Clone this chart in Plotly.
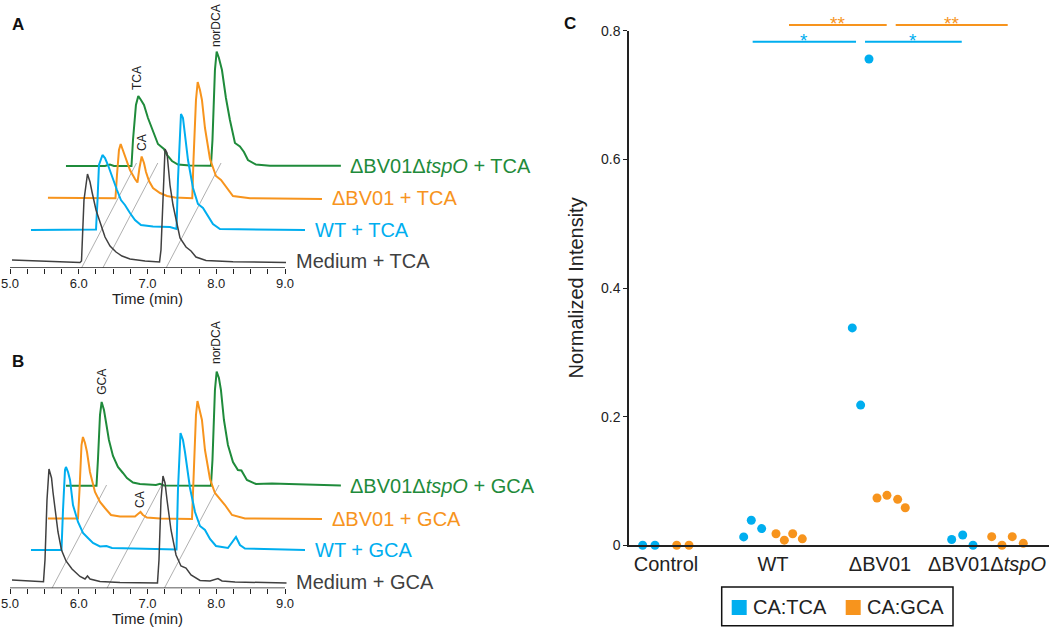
import plotly.graph_objects as go

W, H = 1050, 628

# ---------------- Panels A/B: chromatograms (native retention time, min / signal, a.u.)
A_MED_T = [5.029, 5.436, 6.018, 6.040, 6.076, 6.127, 6.164, 6.193, 6.251, 6.309, 6.382, 6.455, 6.542, 6.629, 6.745, 6.964, 7.175, 7.196, 7.225, 7.255, 7.284, 7.327, 7.371, 7.415, 7.473, 7.560, 7.633, 7.705, 7.851, 8.244, 9.015]
A_MED_I = [1, 0, -1.5, 0, 61, 87, 79, 69, 51, 39, 24, 15, 9, 5, 2, 0, -1, 11, 71, 112, 108, 76, 56, 43, 23, 14, 10, 4, 0.5, -0.7, -1.5]
A_WT_T = [5.039, 5.461, 5.985, 6.007, 6.028, 6.079, 6.116, 6.159, 6.217, 6.290, 6.348, 6.406, 6.479, 6.552, 6.639, 6.814, 7.061, 7.156, 7.177, 7.206, 7.221, 7.250, 7.279, 7.323, 7.396, 7.468, 7.541, 7.614, 7.686, 7.788, 9.025]
A_WT_I = [-0.5, 0, 0, 29.5, 64.5, 74.5, 71.5, 64.5, 52.5, 39.5, 29.5, 24.5, 16.5, 9.5, 4.5, 3, 2.5, 0.5, 49.5, 104.5, 115.5, 111.5, 96.5, 69.5, 41.5, 25.5, 21.5, 13.5, 5.5, 0.5, -0.5]
A_DB_T = [5.020, 5.486, 6.002, 6.024, 6.053, 6.078, 6.111, 6.141, 6.213, 6.286, 6.322, 6.351, 6.383, 6.417, 6.446, 6.490, 6.548, 6.650, 6.752, 6.868, 7.119, 7.137, 7.173, 7.198, 7.231, 7.260, 7.304, 7.377, 7.464, 7.537, 7.609, 7.711, 7.959, 9.006]
A_DB_I = [0.6, 0.3, 0, 23.3, 48.3, 54.3, 48.3, 41.3, 28.3, 19.3, 15.8, 30.3, 41.8, 35.3, 26.3, 17.3, 10.3, 5.3, 2.3, 0.8, 0, 38.3, 98.3, 116.3, 108.3, 98.3, 70.3, 39.3, 22.3, 18.3, 11.3, 2.3, 0, -0.7]
A_DT_T = [5.016, 5.583, 5.656, 5.714, 5.969, 5.991, 6.034, 6.068, 6.107, 6.151, 6.209, 6.282, 6.354, 6.398, 6.441, 6.485, 6.558, 6.645, 6.820, 7.125, 7.147, 7.183, 7.208, 7.241, 7.285, 7.343, 7.401, 7.474, 7.546, 7.605, 7.663, 7.779, 7.983, 9.015]
A_DT_I = [0, 0, 1.5, 0, 0, 26, 61, 70, 66, 61, 48, 34, 22, 19.5, 17, 11, 5, 1.5, 0.5, 0.3, 26, 96, 114.5, 108, 96, 68, 46, 23, 19.5, 14, 6, 1.5, 0.3, 0.3]

B_MED_T = [5.029, 5.436, 5.487, 5.509, 5.538, 5.567, 5.604, 5.625, 5.655, 5.698, 5.749, 5.815, 5.902, 6.018, 6.091, 6.127, 6.164, 6.309, 6.600, 7.145, 7.167, 7.196, 7.225, 7.255, 7.284, 7.342, 7.415, 7.487, 7.560, 7.633, 7.764, 7.909, 8.025, 8.084, 8.273, 9.022]
B_MED_I = [2, 0.5, 0.3, 22, 82, 113, 104, 90, 75, 50, 32, 21, 13, 5.5, 3, 6, 3, 0.5, -0.5, -1, 22, 82, 106, 99, 82, 52, 27, 16, 14, 7, 1.5, 1, 3.5, 1, 0, -1]
B_WT_T = [5.039, 5.483, 5.505, 5.534, 5.548, 5.578, 5.607, 5.650, 5.723, 5.796, 5.868, 5.941, 6.043, 6.137, 6.217, 6.770, 7.156, 7.177, 7.214, 7.250, 7.279, 7.352, 7.425, 7.497, 7.570, 7.643, 7.730, 7.904, 8.021, 8.079, 8.152, 9.025]
B_WT_I = [-0.5, -0.5, 39.5, 79.5, 82.5, 77.5, 69.5, 44.5, 27.5, 16.5, 11.5, 6.5, 3, 3.5, 1.5, 1, 0, 59.5, 116.5, 109.5, 97.5, 61.5, 37.5, 23.5, 19.5, 10.5, 3.5, 1.5, 12.5, 4.5, 1, -0.5]
B_DB_T = [5.020, 5.457, 5.479, 5.508, 5.529, 5.559, 5.588, 5.631, 5.704, 5.777, 5.849, 5.937, 6.068, 6.286, 6.329, 6.366, 6.402, 6.460, 6.649, 7.115, 7.137, 7.173, 7.195, 7.231, 7.260, 7.304, 7.377, 7.449, 7.522, 7.595, 7.697, 7.886, 9.006]
B_DB_I = [0.5, 0.5, 29, 74, 82, 76, 67, 47, 27, 17, 11, 4, 2.5, 2.5, 5, 7, 4, 1.5, 0.5, 0, 39, 104, 118, 109, 99, 69, 40, 26, 20.5, 14, 4, 0.5, 0]
B_DT_T = [5.016, 5.460, 5.481, 5.511, 5.535, 5.569, 5.598, 5.641, 5.700, 5.772, 5.845, 5.903, 5.991, 6.092, 6.325, 6.383, 6.441, 7.125, 7.147, 7.183, 7.208, 7.241, 7.270, 7.314, 7.372, 7.445, 7.517, 7.568, 7.648, 7.779, 8.012, 9.015]
B_DT_I = [0, 0, 25.7, 70.7, 83.7, 75.7, 63.7, 45.7, 29.7, 18.7, 12.7, 7.7, 3.2, 1.7, 0.7, 1.9, 0.2, 0, 25.7, 95.7, 114, 107.7, 95.7, 65.7, 40.7, 23.7, 15.7, 15.2, 5.7, 1.7, 2.2, 0.2]

A_NAMES = ["Medium + TCA", "WT + TCA", "ΔBV01 + TCA", "ΔBV01Δ<i>tspO</i> + TCA"]
B_NAMES = ["Medium + GCA", "WT + GCA", "ΔBV01 + GCA", "ΔBV01Δ<i>tspO</i> + GCA"]
TIME_TICKS = [5.0, 5.25, 5.5, 5.75, 6.0, 6.25, 6.5, 6.75, 7.0, 7.25, 7.5, 7.75, 8.0, 8.25, 8.5, 8.75, 9.0]
A_GUIDE_T = [6.04, 6.35, 7.27]
B_GUIDE_T = [5.61, 6.41, 7.245]

# ---------------- Panel C: normalized intensity
GROUPS = ["Control", "WT", "ΔBV01", "ΔBV01Δ<i>tspO</i>"]
SERIES = ["CA:TCA", "CA:GCA"]
TCA_VALUES = [[0.0, 0.0], [0.013, 0.039, 0.026], [0.338, 0.218, 0.756], [0.009, 0.016, 0.0]]
TCA_JITTER = [[-0.218, -0.103], [-0.274, -0.203, -0.106], [-0.259, -0.181, -0.103], [-0.33, -0.227, -0.131]]
GCA_VALUES = [[0.0, 0.0], [0.018, 0.008, 0.018, 0.010], [0.0735, 0.0777, 0.0714, 0.0584], [0.0134, 0.0, 0.0134, 0.003]]
GCA_JITTER = [[0.1, 0.215], [0.028, 0.106, 0.184, 0.274], [-0.028, 0.065, 0.165, 0.236], [0.044, 0.14, 0.236, 0.339]]
Y_TICKS = [0, 0.2, 0.4, 0.6, 0.8]
Y_TICKTEXT = ["0", "0.2", "0.4", "0.6", "0.8"]

# ---------------- styles / layout constants
TRACE_COLORS = ["#404040", "#00aeef", "#f7941d", "#1f8b3b"]
TRACE_WIDTHS = [1.5, 2, 2, 2]
STACK_DX = 0.266
A_STACK_DY = [0, 31.5, 62.7, 95]
B_STACK_DY = [0, 32.5, 63, 96.3]
BLUE, ORANGE = "#00aeef", "#f7941d"
FONT = "Arial, Liberation Sans, sans-serif"
TXT = "#222222"

fig = go.Figure()


def add_panel(xa, ya, traces, dys, names, guides, shift, ylow, ytop):
    # guide lines (perspective time lines)
    for g in guides:
        fig.add_trace(go.Scatter(x=[g, g + shift], y=[ylow, ytop], mode="lines",
                                 line=dict(color="#9a9a9a", width=0.8),
                                 xaxis=xa, yaxis=ya, showlegend=False, hoverinfo="skip"))
    # back to front
    for k in [3, 2, 1, 0]:
        t, i = traces[k]
        fig.add_trace(go.Scatter(x=[v + k * STACK_DX for v in t], y=[v + dys[k] for v in i],
                                 mode="lines", line=dict(color=TRACE_COLORS[k], width=TRACE_WIDTHS[k]),
                                 xaxis=xa, yaxis=ya, showlegend=False, hoverinfo="skip"))
        fig.add_annotation(x=t[-1] + k * STACK_DX + 0.11, y=dys[k], xref=xa, yref=ya,
                           text=names[k], showarrow=False, xanchor="left", yanchor="middle",
                           font=dict(size=20, color=TRACE_COLORS[k], family=FONT))


add_panel("x", "y",
          [(A_MED_T, A_MED_I), (A_WT_T, A_WT_I), (A_DB_T, A_DB_I), (A_DT_T, A_DT_I)],
          A_STACK_DY, A_NAMES, A_GUIDE_T, 0.8, -7, 98)
add_panel("x2", "y2",
          [(B_MED_T, B_MED_I), (B_WT_T, B_WT_I), (B_DB_T, B_DB_I), (B_DT_T, B_DT_I)],
          B_STACK_DY, B_NAMES, B_GUIDE_T, 0.795, -6.3, 97)

# Panel C scatter
for vals, jit, color, name in [(TCA_VALUES, TCA_JITTER, BLUE, SERIES[0]), (GCA_VALUES, GCA_JITTER, ORANGE, SERIES[1])]:
    xs, ys = [], []
    for gi, (vv, jj) in enumerate(zip(vals, jit)):
        for v, j in zip(vv, jj):
            xs.append(gi + j)
            ys.append(v)
    fig.add_trace(go.Scatter(x=xs, y=ys, mode="markers", xaxis="x3", yaxis="y3",
                             marker=dict(color=color, size=9, line=dict(width=0)),
                             cliponaxis=False, showlegend=False, name=name))

time_text = [f"{v:.1f}" if abs(v - round(v)) < 1e-9 else "" for v in TIME_TICKS]
time_axis = dict(range=[5, 5 + 350 / 68.75], domain=[10 / W, 360 / W], showline=False, showgrid=False,
                 zeroline=False, ticks="outside", ticklen=5, tickwidth=1.2, tickcolor=TXT,
                 tickmode="array", tickvals=TIME_TICKS, ticktext=time_text, automargin=False,
                 ticklabelstandoff=-2, tickfont=dict(size=13, color=TXT, family=FONT))

fig.update_layout(
    template="none",
    width=W, height=H, margin=dict(l=0, r=0, t=0, b=0, pad=0), autosize=False,
    paper_bgcolor="white", plot_bgcolor="rgba(0,0,0,0)",
    font=dict(family=FONT, color=TXT), showlegend=False,
    xaxis=dict(time_axis, anchor="y"),
    yaxis=dict(domain=[1 - 268 / H, 1], range=[-7, 261], visible=False, anchor="x", automargin=False),
    xaxis2=dict(time_axis, anchor="y2"),
    yaxis2=dict(domain=[1 - 588.3 / H, 1 - 300 / H], range=[-6.3, 282], visible=False, anchor="x2",
                automargin=False),
    xaxis3=dict(domain=[629 / W, 1049 / W], range=[-0.3458, 3.5794], anchor="y3", automargin=False,
                tickmode="array", tickvals=[0, 1, 2, 3], ticktext=GROUPS, ticks="",
                showline=True, linecolor=TXT, linewidth=1.5, showgrid=False, zeroline=False,
                tickfont=dict(size=20, color=TXT, family=FONT)),
    yaxis3=dict(domain=[1 - 545.3 / H, 1 - 30.7 / H], range=[0, 0.8], anchor="x3", automargin=False,
                tickmode="array", tickvals=Y_TICKS, ticktext=Y_TICKTEXT, ticks="outside",
                ticklen=4, tickwidth=1.2, tickcolor=TXT, showline=True, linecolor=TXT,
                linewidth=1.5, showgrid=False, zeroline=False,
                tickfont=dict(size=14, color=TXT, family=FONT)),
)

# time axis lines (span 5-9 min only)
for xa, ya, yl in [("x", "y", -7), ("x2", "y2", -6.3)]:
    fig.add_shape(type="line", xref=xa, yref=ya, x0=5, x1=9, y0=yl, y1=yl,
                  line=dict(color=TXT, width=1.5))

# axis titles
fig.add_annotation(x=7.0, xref="x", y=1 - 298 / H, yref="paper", text="Time (min)", showarrow=False,
                   font=dict(size=15, color=TXT, family=FONT), yanchor="middle")
fig.add_annotation(x=7.0, xref="x2", y=1 - 618 / H, yref="paper", text="Time (min)", showarrow=False,
                   font=dict(size=15, color=TXT, family=FONT), yanchor="middle")
fig.add_annotation(x=575.5 / W, xref="paper", y=1 - 288 / H, yref="paper", text="Normalized Intensity",
                   textangle=-90, showarrow=False, font=dict(size=20, color=TXT, family=FONT))

# peak labels
for xa, ya, x, y, txt in [("x", "y", 6.847, 183, "TCA"), ("x", "y", 6.92, 118, "CA"), ("x", "y", 7.996, 236, "norDCA"),
                          ("x2", "y2", 6.334, 200, "GCA"), ("x2", "y2", 6.891, 82, "CA"), ("x2", "y2", 7.996, 240, "norDCA")]:
    fig.add_annotation(x=x, y=y, xref=xa, yref=ya, text=txt, textangle=-90, showarrow=False,
                       font=dict(size=12, color=TXT, family=FONT))

# panel letters
for x, y, t in [(9.5, 12.5, "A"), (10, 361, "B"), (570, 12, "C")]:
    fig.add_annotation(x=x / W, y=1 - y / H, xref="paper", yref="paper", text=f"<b>{t}</b>",
                       showarrow=False, font=dict(size=17, color="#111111", family=FONT))

# significance brackets
for x0, x1, ypx, color, stars in [(1.1495, 2.0626, 25, ORANGE, "**"), (2.1467, 3.1935, 25, ORANGE, "**"),
                                  (0.810, 1.776, 41.7, BLUE, "*"), (1.860, 2.764, 41.7, BLUE, "*")]:
    fig.add_shape(type="line", xref="x3", yref="paper", x0=x0, x1=x1, y0=1 - ypx / H, y1=1 - ypx / H,
                  line=dict(color=color, width=2))
    fig.add_annotation(x=(x0 + x1) / 2, xref="x3", y=1 - (ypx - 13.5) / H, yref="paper", text=stars,
                       showarrow=False, yanchor="top", font=dict(size=19, color=color, family=FONT))

# legend box (boxed key under panel C)
fig.add_shape(type="rect", xref="paper", yref="paper", x0=721.7 / W, x1=953 / W,
              y0=1 - 625.7 / H, y1=1 - 587 / H, line=dict(color="#111111", width=1.5),
              fillcolor="white")
for sx, tx, color, name in [(731.7, 750.7, BLUE, SERIES[0]), (845.7, 865, ORANGE, SERIES[1])]:
    fig.add_shape(type="rect", xref="paper", yref="paper", x0=sx / W, x1=(sx + 15) / W,
                  y0=1 - 615 / H, y1=1 - 600 / H, line=dict(width=0), fillcolor=color)
    fig.add_annotation(x=tx / W, y=1 - 607 / H, xref="paper", yref="paper", text=name,
                       showarrow=False, xanchor="left", yanchor="middle",
                       font=dict(size=20, color=TXT, family=FONT))

fig.write_html("out.html", config={"displayModeBar": False},
               post_script="document.body.style.margin='0';document.body.style.overflow='hidden';")
